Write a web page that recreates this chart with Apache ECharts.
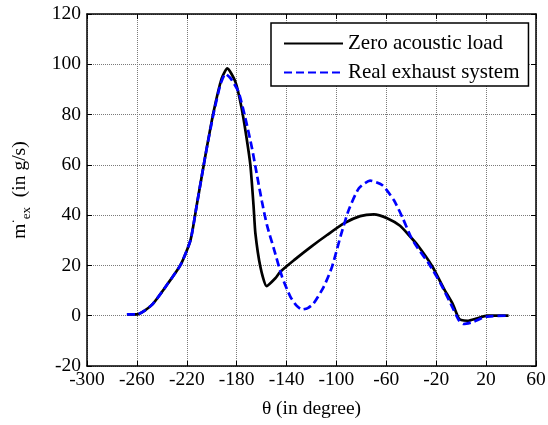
<!DOCTYPE html>
<html>
<head>
<meta charset="utf-8">
<script src="https://cdn.jsdelivr.net/npm/echarts@6/dist/echarts.min.js"></script>
<style>
html,body{margin:0;padding:0;background:#fff;}
#chart{width:548px;height:425px;}
</style>
</head>
<body>
<div id="chart"></div>
<script>
// Zero acoustic load (theta in degree, mass flow in g/s)
const zeroTheta = [-268, -260, -248, -235, -225, -217, -212, -205, -198.5, -192, -187.5, -181, -176, -172, -169, -166.5, -165, -161, -156, -149, -145, -134, -121, -107.5, -94, -81, -70, -59, -49, -42, -35, -23, -14, -7, -2, 0, 5, 13, 21, 38];
const zeroVal   = [0.5, 0.5, 4.3, 12.9, 20.2, 30.1, 44, 63.9, 81.1, 94.4, 98.4, 93, 82.5, 70.5, 59.9, 44, 32.8, 19.5, 11.8, 14.9, 17.5, 22.1, 27.2, 32.1, 36.7, 39.6, 40.3, 38.7, 35.8, 32.1, 28.1, 19.5, 10.9, 4.9, -1, -1.7, -2, -1, 0, 0];
// Real exhaust system
const realTheta = [-268, -260, -248, -235, -225, -217, -212, -205, -198.5, -193, -189, -185, -178.5, -173, -167.7, -163.7, -159.7, -155.7, -150.4, -143.6, -137, -132, -127.6, -123, -118.3, -110.2, -103.5, -96.8, -90.2, -82, -73, -63.4, -54, -47, -40, -35, -26, -16.6, -8.5, -2, 2, 10, 19.6, 37];
const realVal   = [0.5, 0.5, 4.3, 12.9, 20.2, 30.1, 44, 63.9, 80.5, 92, 96.2, 94.5, 89, 78.5, 66.6, 55.9, 45.3, 36, 27, 15.5, 7.6, 4, 2.5, 3, 4.9, 11.5, 19.5, 31.4, 42, 50.7, 53.7, 52, 46, 39, 31, 27, 20.8, 12.9, 4.9, -1.7, -3.3, -2.4, -0.4, 0];

const seriesNames = ['Zero acoustic load', 'Real exhaust system'];
const xMin = -300, xMax = 60, xStep = 40;
const yMin = -20, yMax = 120, yStep = 20;

const FONT = 'Liberation Serif, Times New Roman, serif';
const pair = (xs, ys) => xs.map((x, i) => [x, ys[i]]);

const chart = echarts.init(document.getElementById('chart'), null, {renderer: 'canvas'});
const gridLine = {show: true, lineStyle: {color: '#7a7a7a', type: [1, 1], width: 1}};
const axisLine = {show: true, onZero: false, lineStyle: {color: '#000', width: 1.5}};
const tick = {show: true, inside: true, length: 5, lineStyle: {color: '#000', width: 1}};

chart.setOption({
  animation: false,
  backgroundColor: '#fff',
  grid: {left: 87, top: 14, right: 12, bottom: 59, containLabel: false, outerBoundsMode: 'none'},
  xAxis: [{
    type: 'value', min: xMin, max: xMax, interval: xStep, position: 'bottom',
    axisLine: axisLine, axisTick: tick, splitLine: gridLine,
    axisLabel: {color: '#000', fontFamily: FONT, fontSize: 19.5, margin: 4},
    name: 'θ (in degree)', nameLocation: 'middle', nameGap: 33,
    nameTextStyle: {color: '#000', fontFamily: FONT, fontSize: 19.5}
  }, {
    type: 'value', min: xMin, max: xMax, interval: xStep, position: 'top',
    axisLine: axisLine, axisTick: tick, splitLine: {show: false}, axisLabel: {show: false}
  }],
  yAxis: [{
    type: 'value', min: yMin, max: yMax, interval: yStep, position: 'left',
    axisLine: axisLine, axisTick: tick, splitLine: gridLine,
    axisLabel: {color: '#000', fontFamily: FONT, fontSize: 19.5, margin: 6},
    name: '{m|m}{d|·}{e|ex}{t|  (in g/s)}', nameLocation: 'middle', nameGap: 54, nameRotate: 90,
    nameTextStyle: {
      color: '#000', fontFamily: FONT, fontSize: 19.5,
      rich: {
        m: {fontFamily: FONT, fontSize: 19.5, lineHeight: 26, color: '#000', verticalAlign: 'middle'},
        d: {fontFamily: FONT, fontSize: 13, lineHeight: 13, color: '#000', verticalAlign: 'top'},
        e: {fontFamily: FONT, fontSize: 13, lineHeight: 13, color: '#000', verticalAlign: 'bottom'},
        t: {fontFamily: FONT, fontSize: 19.5, lineHeight: 26, color: '#000', verticalAlign: 'middle'}
      }
    }
  }, {
    type: 'value', min: yMin, max: yMax, interval: yStep, position: 'right',
    axisLine: axisLine, axisTick: tick, splitLine: {show: false}, axisLabel: {show: false}
  }],
  legend: {
    left: 271, top: 23, orient: 'vertical',
    data: seriesNames,
    backgroundColor: '#fff', borderColor: '#000', borderWidth: 1.5, borderRadius: 0,
    padding: [10, 9, 3, 12], itemGap: 8, itemWidth: 59, itemHeight: 20,
    itemStyle: {opacity: 0},
    textStyle: {color: '#000', fontFamily: FONT, fontSize: 21, padding: [0, 0, 0, 0]},
    selectedMode: false
  },
  series: [{
    name: seriesNames[0], type: 'line', data: pair(zeroTheta, zeroVal),
    symbol: 'none', smooth: 0.2, z: 3,
    lineStyle: {color: '#000', width: 2.7, type: 'solid'}, itemStyle: {color: '#000'}
  }, {
    name: seriesNames[1], type: 'line', data: pair(realTheta, realVal),
    symbol: 'none', smooth: 0.2, z: 4,
    lineStyle: {color: '#0000ff', width: 2.7, type: [8, 4]}, itemStyle: {color: '#0000ff'}
  }]
});
</script>
</body>
</html>
